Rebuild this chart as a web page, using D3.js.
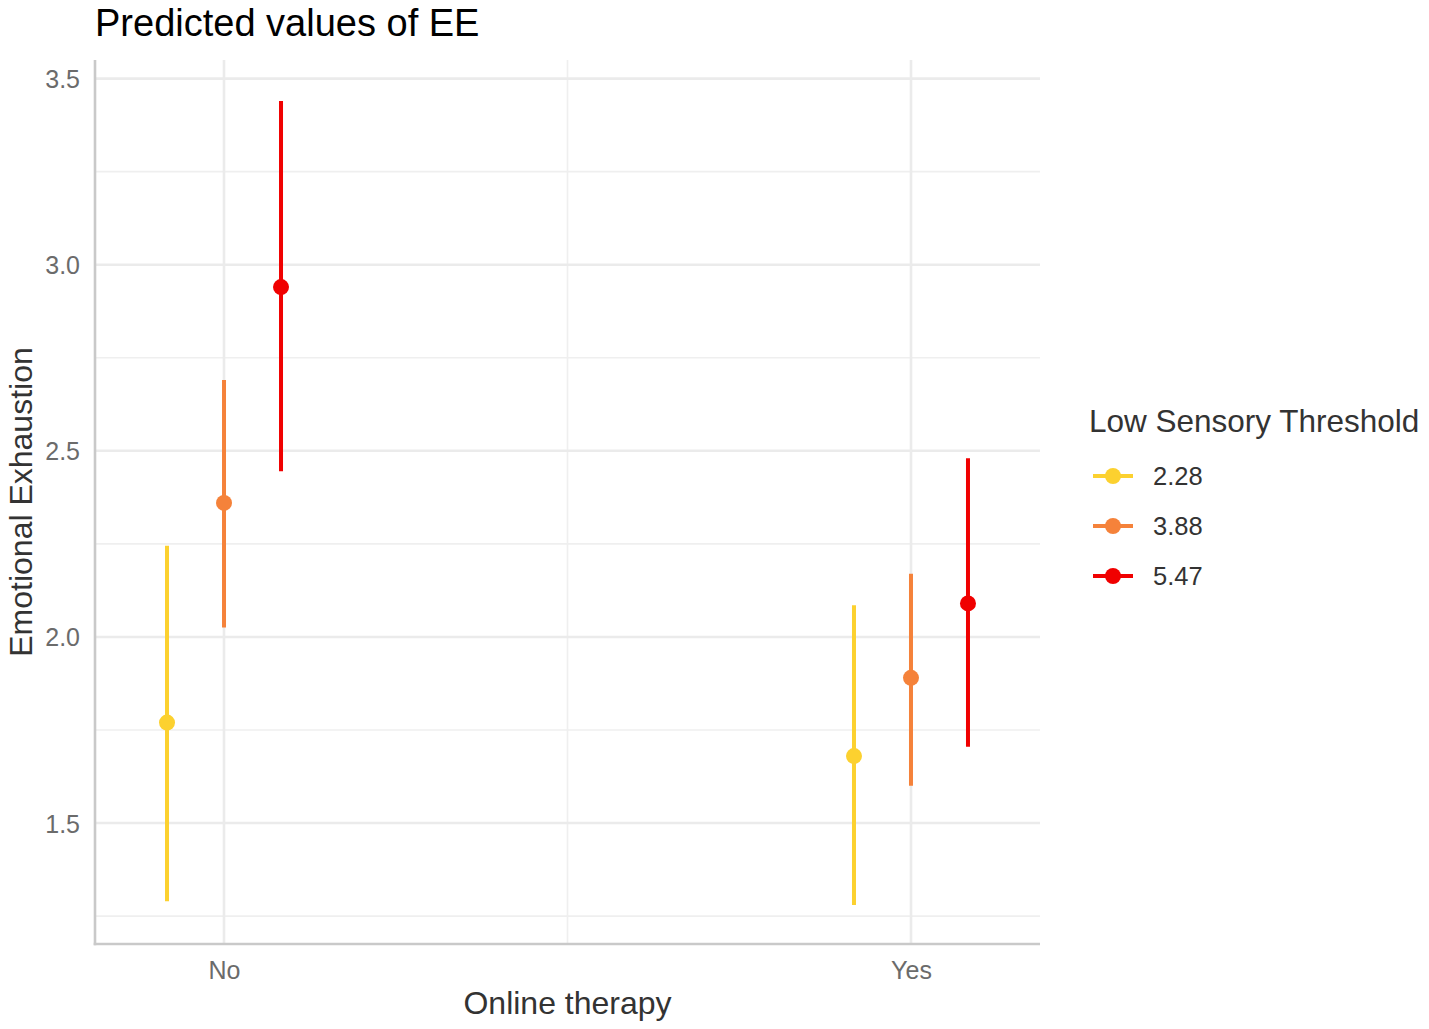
<!DOCTYPE html>
<html>
<head>
<meta charset="utf-8">
<script src="https://cdn.jsdelivr.net/npm/d3@7"></script>
<style>
	body { margin: 0; background: #fff; }
	text { font-family: "Liberation Sans", Arial, sans-serif; }
</style>
</head>
<body>
<div id="graphe"></div>
<script>
"use strict";

// données
const therapie = ["No", "Yes"];
const seuils = ["2.28", "3.88", "5.47"];
const couleurs = ["#FCD12F", "#F5823A", "#F00000"];
const predits = [[1.77, 2.36, 2.94], [1.68, 1.89, 2.09]];
const bornesInf = [[1.29, 2.025, 2.445], [1.28, 1.60, 1.705]];
const bornesSup = [[2.245, 2.69, 3.44], [2.085, 2.17, 2.48]];
const ticksMajeurs = [1.5, 2.0, 2.5, 3.0, 3.5];
const ticksMineurs = [1.25, 1.75, 2.25, 2.75, 3.25];

const largeur = 1429, hauteur = 1029;
const cadre = { left: 95, right: 1040, top: 60, bottom: 944 };

const svg = d3.select("#graphe").append("svg")
	.attr("width", largeur)
	.attr("height", hauteur);

// échelles
const x = d3.scalePoint()
	.domain(therapie)
	.range([cadre.left, cadre.right])
	.padding(0.1878);
const decalage = d3.scalePoint()
	.domain(seuils)
	.range([-57, 57]);
const y = d3.scaleLinear()
	.domain([1.175, 3.55])
	.range([cadre.bottom, cadre.top]);

// grilles
const gGrilles = svg.append("g").attr("class", "grilles");
gGrilles.selectAll("line.mineur")
	.data(ticksMineurs)
	.enter()
		.append("line")
		.attr("class", "mineur")
		.attr("x1", cadre.left).attr("x2", cadre.right)
		.attr("y1", d => y(d)).attr("y2", d => y(d))
		.attr("stroke", "#EFEFEF").attr("stroke-width", 1.6);
gGrilles.append("line") // grille mineure en x entre les deux modalités
	.attr("x1", (x("No") + x("Yes")) / 2).attr("x2", (x("No") + x("Yes")) / 2)
	.attr("y1", cadre.top).attr("y2", cadre.bottom)
	.attr("stroke", "#EFEFEF").attr("stroke-width", 1.6);
gGrilles.selectAll("line.majeur")
	.data(ticksMajeurs)
	.enter()
		.append("line")
		.attr("class", "majeur")
		.attr("x1", cadre.left).attr("x2", cadre.right)
		.attr("y1", d => y(d)).attr("y2", d => y(d))
		.attr("stroke", "#EBEBEB").attr("stroke-width", 2.6);
gGrilles.selectAll("line.majeurX")
	.data(therapie)
	.enter()
		.append("line")
		.attr("class", "majeurX")
		.attr("x1", d => x(d)).attr("x2", d => x(d))
		.attr("y1", cadre.top).attr("y2", cadre.bottom)
		.attr("stroke", "#EBEBEB").attr("stroke-width", 2.6);

// axes
const axeY = svg.append("g")
	.attr("transform", "translate(" + cadre.left + ",0)")
	.call(d3.axisLeft(y).tickValues(ticksMajeurs).tickFormat(d3.format(".1f")).tickSize(0).tickPadding(15));
const axeX = svg.append("g")
	.attr("transform", "translate(0," + cadre.bottom + ")")
	.call(d3.axisBottom(x).tickSize(0).tickPadding(35));
[axeY, axeX].forEach(a => {
	a.select(".domain").attr("stroke", "#C9C9C9").attr("stroke-width", 2.6);
	a.selectAll("text").attr("fill", "#6B6B6B").style("font-size", "25px");
});
axeY.select(".domain").attr("d", "M0," + cadre.top + "V" + (cadre.bottom + 1.3));
axeX.select(".domain").attr("d", "M" + (cadre.left - 1.3) + ",0H" + cadre.right);
axeY.selectAll("text").attr("dy", "0.36em");
axeX.selectAll("text").attr("dy", "0em");

// intervalles et points
const donnees = [];
therapie.forEach((t, i) => seuils.forEach((s, j) => donnees.push({
	t: t, s: s, c: couleurs[j], v: predits[i][j], inf: bornesInf[i][j], sup: bornesSup[i][j]
})));
const gMarques = svg.append("g").attr("class", "marques");
gMarques.selectAll("line")
	.data(donnees)
	.enter()
		.append("line")
		.attr("x1", d => x(d.t) + decalage(d.s)).attr("x2", d => x(d.t) + decalage(d.s))
		.attr("y1", d => y(d.inf)).attr("y2", d => y(d.sup))
		.attr("stroke", d => d.c).attr("stroke-width", 4);
gMarques.selectAll("circle")
	.data(donnees)
	.enter()
		.append("circle")
		.attr("cx", d => x(d.t) + decalage(d.s))
		.attr("cy", d => y(d.v))
		.attr("r", 8)
		.attr("fill", d => d.c);

// titres
svg.append("text")
	.attr("x", cadre.left).attr("y", 36)
	.style("font-size", "38px").attr("fill", "#000")
	.text("Predicted values of EE");
svg.append("text")
	.attr("x", (cadre.left + cadre.right) / 2).attr("y", 1014)
	.attr("text-anchor", "middle")
	.style("font-size", "32px").attr("fill", "#333")
	.text("Online therapy");
svg.append("text")
	.attr("transform", "translate(32," + ((cadre.top + cadre.bottom) / 2) + ") rotate(-90)")
	.attr("text-anchor", "middle")
	.style("font-size", "32px").attr("fill", "#333")
	.text("Emotional Exhaustion");

// légende
const gLegende = svg.append("g").attr("transform", "translate(1089,0)");
gLegende.append("text")
	.attr("x", 0).attr("y", 432)
	.style("font-size", "31.5px").attr("fill", "#333")
	.text("Low Sensory Threshold");
const cles = gLegende.selectAll("g.cle")
	.data(seuils)
	.enter()
		.append("g")
		.attr("class", "cle")
		.attr("transform", (d, i) => "translate(0," + (476 + i * 50) + ")");
cles.append("line")
	.attr("x1", 4).attr("x2", 44).attr("y1", 0).attr("y2", 0)
	.attr("stroke", (d, i) => couleurs[i]).attr("stroke-width", 4);
cles.append("circle")
	.attr("cx", 24).attr("cy", 0).attr("r", 8)
	.attr("fill", (d, i) => couleurs[i]);
cles.append("text")
	.attr("x", 64).attr("y", 0).attr("dy", "0.36em")
	.style("font-size", "25.5px").attr("fill", "#333")
	.text(d => d);
</script>
</body>
</html>
